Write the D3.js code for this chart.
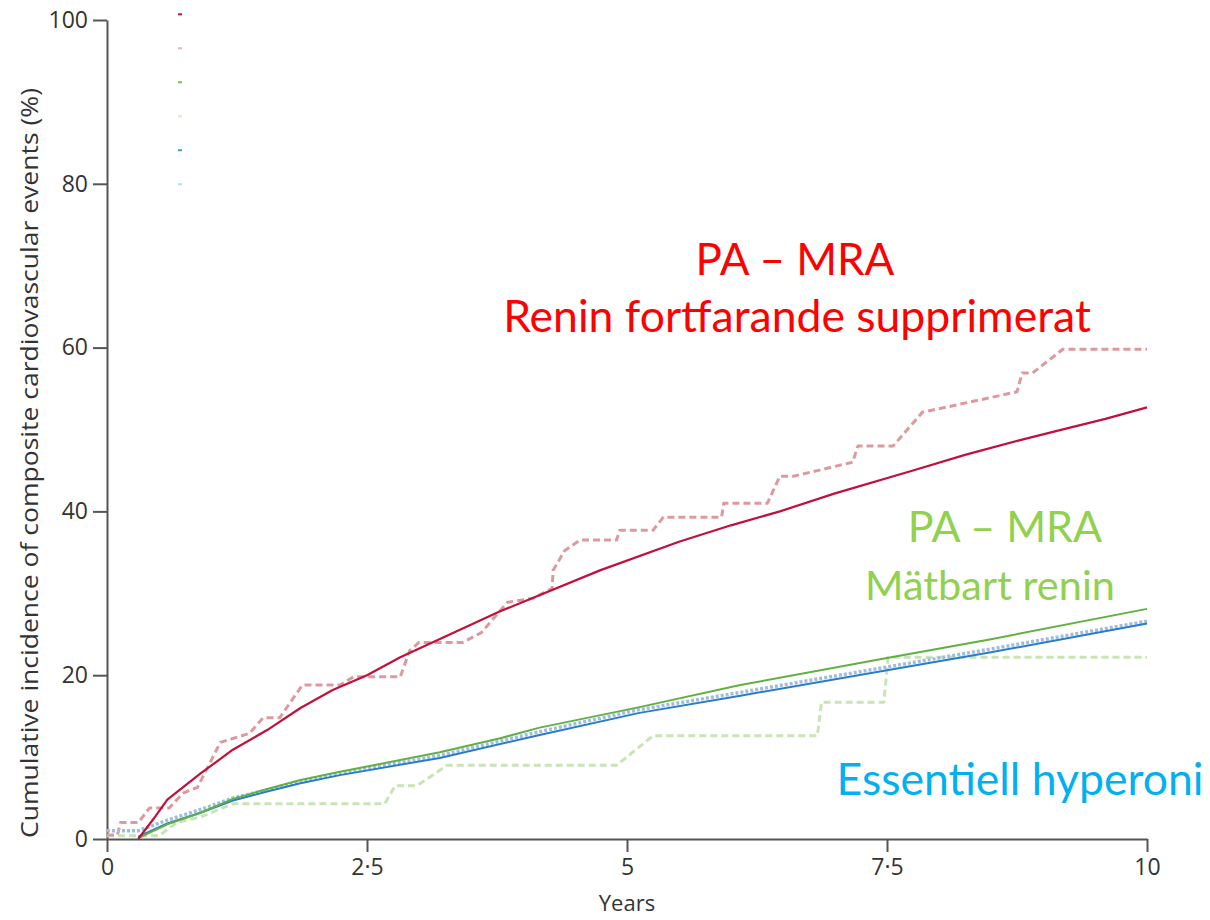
<!DOCTYPE html>
<html>
<head>
<meta charset="utf-8">
<script src="https://cdn.jsdelivr.net/npm/d3@7"></script>
<style>
  body { margin: 0; background: #fff; }
  svg { display: block; }
</style>
</head>
<body>
<div id="viz"></div>
<script>
// axis ticks
var xTicks = [0, 2.5, 5, 7.5, 10];
var yTicks = [0, 20, 40, 60, 80, 100];

// PA on MRA, renin still suppressed (solid = model, dashed = observed)
var redSolidYears = [0.3, 0.45, 0.58, 0.9, 1.21, 1.54, 1.86, 2.17, 2.5, 2.82, 3.3, 3.78, 4.74, 5.5, 6, 6.47, 7, 7.75, 8.25, 8.78, 9.25, 9.6, 10];
var redSolidPct = [0, 2.5, 4.8, 8, 10.9, 13.3, 16, 18.2, 20, 22.2, 25, 27.8, 32.8, 36.3, 38.3, 40, 42.2, 45, 46.9, 48.7, 50.2, 51.3, 52.7];
var redDashYears = [0, 0.1, 0.13, 0.3, 0.41, 0.6, 0.73, 0.87, 1.09, 1.37, 1.5, 1.66, 1.88, 2.24, 2.37, 2.82, 2.91, 3.0, 3.42, 3.6, 3.85, 4.1, 4.28, 4.29, 4.4, 4.55, 4.9, 4.93, 5.25, 5.35, 5.91, 5.93, 6.35, 6.47, 6.6, 7.17, 7.22, 7.56, 7.84, 8.75, 8.8, 8.9, 9.19, 10];
var redDashPct = [0.5, 0.5, 2, 2, 3.8, 3.8, 5.6, 6.3, 11.8, 12.9, 14.8, 14.8, 18.8, 18.8, 19.8, 19.8, 23, 24, 24, 25.2, 28.9, 29.4, 30.6, 32.8, 35.2, 36.5, 36.5, 37.7, 37.7, 39.3, 39.3, 41, 41, 44.3, 44.3, 46, 48, 48, 52.1, 54.6, 56.9, 56.9, 59.8, 59.8];

// PA on MRA, measurable renin
var greenSolidYears = [0.3, 0.58, 0.9, 1.21, 1.54, 1.86, 2.24, 2.6, 3.2, 3.78, 4.16, 5.12, 6.09, 7.5, 8.5, 10];
var greenSolidPct = [0.1, 1.8, 3.2, 4.9, 6.1, 7.2, 8.2, 9.1, 10.6, 12.3, 13.6, 16.1, 18.8, 22.1, 24.4, 28.1];
var greenDashYears = [0, 0.5, 0.67, 0.9, 1.21, 2.67, 2.77, 2.98, 3.27, 4.9, 5.25, 6.83, 6.87, 7.47, 7.51, 10];
var greenDashPct = [0.4, 0.4, 2, 2.7, 4.3, 4.3, 6.5, 6.5, 9.0, 9.0, 12.6, 12.6, 16.7, 16.7, 22.2, 22.2];

// essential hypertension
var blueSolidYears = [0.3, 0.58, 0.9, 1.21, 1.54, 1.86, 2.24, 3.2, 4.16, 5.12, 6.09, 7.5, 8.5, 10];
var blueSolidPct = [0.3, 1.9, 3.2, 4.7, 5.8, 6.8, 7.8, 9.9, 12.7, 15.4, 17.5, 20.6, 22.8, 26.3];
var blueDashYears = [0, 0.3, 0.58, 0.9, 1.21, 1.54, 1.86, 2.24, 3.2, 4.16, 5.12, 6.09, 7.5, 8.5, 10];
var blueDashPct = [1, 1, 2.3, 3.6, 5.0, 6.0, 7.0, 8.0, 10.2, 13.1, 15.8, 17.9, 21.0, 23.2, 26.6];

// leftover legend swatches (top left)
var legendColors = ['#d0104a', '#f4b0b4', '#78c050', '#d8ecc8', '#20a8d8', '#b0e0f0'];

var width = 1210,
  height = 920,
  margin = { top: 20, right: 63, bottom: 81, left: 107 };

var svg = d3.select('#viz').append('svg')
  .attr('width', width)
  .attr('height', height);

var xScale = d3.scaleLinear()
  .domain([0, 10])
  .range([margin.left, width - margin.right]);

var yScale = d3.scaleLinear()
  .domain([0, 100])
  .range([height - margin.bottom, margin.top]);

var fmt = function(d) { return String(d).replace('.', '\u00b7'); };

var xAxis = d3.axisBottom(xScale).tickValues(xTicks).tickFormat(fmt).tickSize(13).tickSizeOuter(0).tickPadding(7);
var yAxis = d3.axisLeft(yScale).tickValues(yTicks).tickFormat(fmt).tickSize(14).tickSizeOuter(0).tickPadding(5);

var xGuide = svg.append('g')
  .attr('transform', 'translate(0,' + yScale(0) + ')')
  .call(xAxis);
var yGuide = svg.append('g')
  .attr('transform', 'translate(' + xScale(0) + ',0)')
  .call(yAxis);

[xGuide, yGuide].forEach(function(g) {
  g.select('.domain').attr('stroke', '#555').attr('stroke-width', 2);
  g.selectAll('.tick line').attr('stroke', '#555').attr('stroke-width', 2);
  g.selectAll('.tick text')
    .attr('fill', '#333')
    .style('font', '23px "Open Sans", sans-serif');
});

// axis titles
svg.append('text')
  .attr('x', xScale(5))
  .attr('y', 911)
  .attr('text-anchor', 'middle')
  .attr('fill', '#333')
  .style('font', '22px "Open Sans", sans-serif')
  .text('Years');

svg.append('text')
  .attr('transform', 'translate(38,463) rotate(-90)')
  .attr('text-anchor', 'middle')
  .attr('fill', '#333')
  .style('font', '23px "Open Sans", sans-serif')
  .attr('textLength', 750)
  .attr('lengthAdjust', 'spacingAndGlyphs')
  .text('Cumulative incidence of composite cardiovascular events (%)');

// legend remnants
svg.selectAll('rect.swatch').data(legendColors)
  .enter().append('rect')
  .attr('class', 'swatch')
  .attr('x', 178)
  .attr('y', function(d, i) { return yScale(100.7 - i * 4.15) - 1; })
  .attr('width', 4)
  .attr('height', 2)
  .attr('fill', function(d) { return d; });

var series = [
  { years: greenDashYears, pct: greenDashPct, color: '#c9e4b6', width: 3, dash: '7,4' },
  { years: redDashYears, pct: redDashPct, color: '#dc9a9e', width: 3, dash: '7,4' },
  { years: blueDashYears, pct: blueDashPct, color: '#9dbde3', width: 3.5, dash: '3,2' },
  { years: blueSolidYears, pct: blueSolidPct, color: '#2a7ccb', width: 2, dash: null },
  { years: greenSolidYears, pct: greenSolidPct, color: '#62b043', width: 2, dash: null },
  { years: redSolidYears, pct: redSolidPct, color: '#c1103c', width: 2.2, dash: null }
];

var line = d3.line()
  .x(function(d) { return xScale(d[0]); })
  .y(function(d) { return yScale(d[1]); })
  .curve(d3.curveLinear);

svg.append('g').selectAll('path')
  .data(series)
  .enter().append('path')
  .attr('d', function(s) { return line(d3.zip(s.years, s.pct)); })
  .attr('fill', 'none')
  .attr('stroke', function(s) { return s.color; })
  .attr('stroke-width', function(s) { return s.width; })
  .attr('stroke-dasharray', function(s) { return s.dash; })
  .attr('stroke-linejoin', 'round');

// annotations
var notes = [
  { text: 'PA \u2013 MRA', x: 795, y: 275, size: 44, color: '#ff0000' },
  { text: 'Renin fortfarande supprimerat', x: 797, y: 332, size: 44.5, color: '#ff0000' },
  { text: 'PA \u2013 MRA', x: 1005, y: 542, size: 43, color: '#92d050' },
  { text: 'M\u00e4tbart renin', x: 990, y: 600, size: 41.5, color: '#92d050' },
  { text: 'Essentiell hyperoni', x: 1020, y: 795, size: 44.5, color: '#00b0f0' }
];

svg.append('g').selectAll('text')
  .data(notes)
  .enter().append('text')
  .attr('x', function(d) { return d.x; })
  .attr('y', function(d) { return d.y; })
  .attr('text-anchor', 'middle')
  .attr('fill', function(d) { return d.color; })
  .style('font-family', 'Lato, "Open Sans", sans-serif')
  .style('font-size', function(d) { return d.size + 'px'; })
  .text(function(d) { return d.text; });
</script>
</body>
</html>
